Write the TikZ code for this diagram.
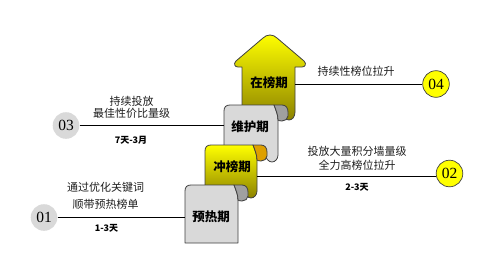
\documentclass[tikz,border=0pt]{standalone}
\usepackage{fontspec}
\setmainfont{Noto Sans CJK SC}
\newfontfamily\numfont{Liberation Serif}
\definecolor{ygold}{RGB}{255,255,0}
\definecolor{yolive}{RGB}{140,130,0}
\definecolor{tabgold}{RGB}{222,160,0}
\definecolor{lgray}{RGB}{217,217,217}
\definecolor{dgray}{RGB}{160,160,160}
\definecolor{edgec}{RGB}{64,64,64}
\definecolor{txtc}{RGB}{30,30,30}
\newcommand{\scrollbody}[5]{%
  \path[#5] (#1,{#4-7}) -- (#1,{#2+6}) .. controls (#1,{#2+2}) and ({#1+2},#2) .. ({#1+6},#2)
    -- ({#3-4},#2) .. controls ({#3-2},{#2+5}) and (#3,{#2+10}) .. (#3,{#2+15})
    -- (#3,{#4-7}) .. controls (#3,{#4-3}) and ({#3-3},#4) .. ({#3-6},#4)
    .. controls ({#3-9},#4) and ({#3-12},{#4-3}) .. ({#3-13},{#4-7}) -- cycle;}
\newcommand{\scrolltab}[3]{%
  \path[#3] ({#2-4},#1) -- ({#2+4},#1) .. controls ({#2+8},#1) and ({#2+10},{#1+3}) .. ({#2+10},{#1+7})
    -- ({#2+10},{#1+11}) .. controls ({#2+10},{#1+14}) and ({#2+7},{#1+16}) .. ({#2+4},{#1+16})
    .. controls ({#2+2},{#1+16}) and (#2,{#1+15.5}) .. (#2,{#1+15})
    .. controls (#2,{#1+10}) and ({#2-2},{#1+5}) .. ({#2-4},#1) -- cycle;}
\tikzset{
  shp/.style={draw=edgec, line width=0.8pt, line join=round},
  ybody/.style={shp, top color=ygold, middle color=ygold, bottom color=yolive},
  gbody/.style={shp, fill=lgray},
  ytab/.style={shp, fill=tabgold},
  gtab/.style={shp, fill=dgray},
  lbl/.style={font=\fontsize{12.5}{14}\selectfont\bfseries, text=black, inner sep=0},
  txt/.style={font=\fontsize{11}{12}\selectfont, text=txtc, align=center, inner sep=0},
  dur/.style={font=\fontsize{9}{10}\selectfont\bfseries, text=black, inner sep=0},
  cnum/.style={circle, minimum size=26.6pt, inner sep=0, font=\numfont\fontsize{15.5}{15.5}\selectfont},
  cg/.style={cnum, fill=lgray},
  cy/.style={cnum, fill=ygold, draw=edgec, line width=0.7pt},
  conn/.style={draw=black, line width=0.8pt}
}
\begin{document}
\begin{tikzpicture}[x=1pt,y=-1pt]
\useasboundingbox (0,0) rectangle (500,265);
% 在榜期 arrow
\path[ybody] (242,113) -- (242,67) -- (238,67) .. controls (235,67) and (233,64) .. (236,61)
  -- (263,38) .. controls (267,34) and (273,34) .. (277,38)
  -- (304,61) .. controls (307,64) and (305,67) .. (302,67) -- (295,67) -- (295,112)
  .. controls (295,117) and (292,120) .. (289,120) .. controls (286,120) and (283,117) .. (282,113) -- cycle;
% 维护期
\scrollbody{224}{105}{278}{162}{gbody}
\scrolltab{105}{278}{gtab}
% 冲榜期
\scrollbody{205}{145}{257}{198}{ybody}
\scrolltab{145}{257}{ytab}
% 预热期
\path[gbody] (185,243) -- (185,191) .. controls (185,187) and (187,185) .. (191,185) -- (234,185)
  .. controls (236,190) and (238,195) .. (238,200) -- (238,243) -- cycle;
\scrolltab{185}{238}{gtab}
% labels
\node[lbl] (zb) at (269,83) {在榜期};
\node[lbl] (wh) at (250,127) {维护期};
\node[lbl] (cb) at (232,167) {冲榜期};
\node[lbl] (yr) at (211,217) {预热期};
% connector ends
\coordinate (yr-w) at (185,217.5);
\coordinate (wh-w) at (224,125.5);
\coordinate (cb-e) at (257,176);
\coordinate (zb-e) at (295,84);
% circles
\node[cg] (c01) at (44,217.5) {01};
\node[cg] (c03) at (66,125.5) {03};
\node[cy] (c02) at (449.5,173.5) {02};
\node[cy] (c04) at (436,84) {04};
% connectors
\draw[conn] (c01) -- (yr-w);
\draw[conn] (c03) -- (wh-w);
\draw[conn] (cb-e) -- (cb-e -| c02.west);
\draw[conn] (zb-e) -- (c04);
% texts
\node[txt] (t03) at (131.5,107) {持续投放\\最佳性价比量级};
\node[dur] (d03) at (131,140) {7天-3月};
\node[txt, font=\fontsize{11}{17}\selectfont] (t01) at (105.5,195.5) {通过优化关键词\\顺带预热榜单};
\node[dur] (d01) at (106.5,228) {1-3天};
\node[txt] (t04) at (356,71) {持续性榜位拉升};
\node[txt, font=\fontsize{11}{14}\selectfont] (t02) at (357,158) {投放大量积分墙量级\\全力高榜位拉升};
\node[dur] (d02) at (357,187) {2-3天};
\end{tikzpicture}
\end{document}
